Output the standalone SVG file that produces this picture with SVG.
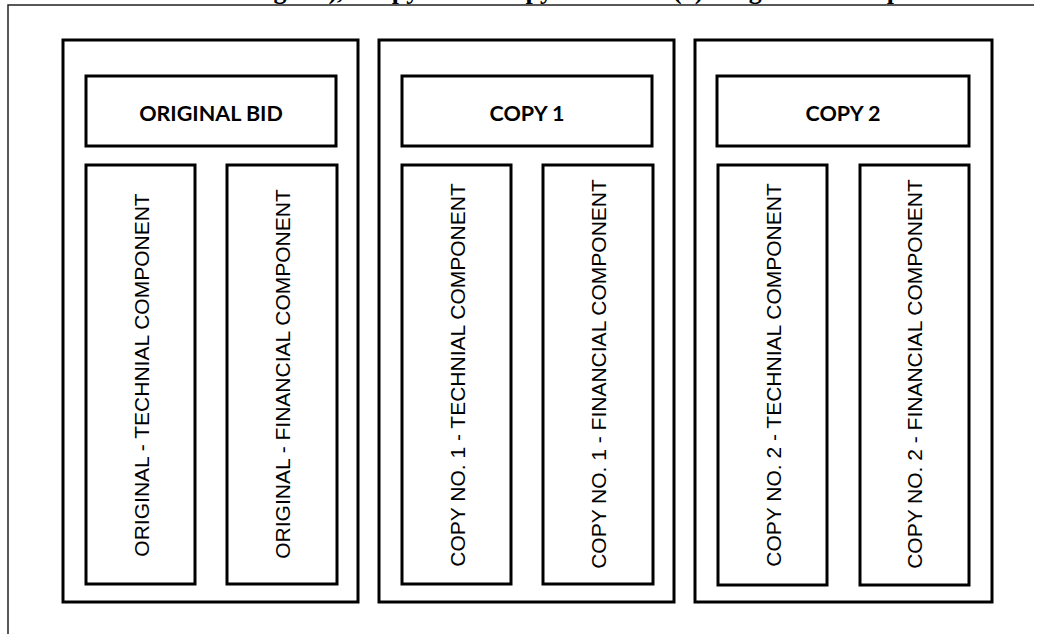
<svg xmlns="http://www.w3.org/2000/svg" width="1038" height="634" viewBox="0 0 1038 634">
<style>
.frame{fill:none;stroke:#222;stroke-width:1.5}
.box{fill:#fff;stroke:#000;stroke-width:3}
.title{font-family:"Liberation Serif",serif;font-weight:bold;font-size:26px;fill:#000}
.hdr{font-family:Lato,"Open Sans",sans-serif;font-weight:bold;font-size:21.5px;fill:#000;text-anchor:middle}
.vt{font-family:"Liberation Sans",Arial,sans-serif;font-size:21px;fill:#000;text-anchor:middle}
</style>
<rect width="1038" height="634" fill="#fff"/>
<text class="title" y="-1.5"><tspan x="234.5">Original),</tspan><tspan x="360">Copy 1 and Copy 2 in an</tspan><tspan x="673">(1) Original Envelope</tspan></text>
<g id="frame">
<polyline class="frame" points="8,634 8,5 1034,5"/>
</g>
<g id="bid-original">
<rect class="box" x="63" y="40" width="295" height="562"/>
<g id="hdr-original"><rect class="box" x="86" y="76" width="250" height="70"/><text class="hdr" x="211" y="121">ORIGINAL BID</text></g>
<g id="orig-tech"><rect class="box" x="86" y="165" width="109" height="419"/><text class="vt" transform="translate(141,375) rotate(-90)" y="7.5">ORIGINAL - TECHNIAL COMPONENT</text></g>
<g id="orig-fin"><rect class="box" x="227" y="165" width="110" height="419"/><text class="vt" transform="translate(282,374) rotate(-90)" y="7.5">ORIGINAL - FINANCIAL COMPONENT</text></g>
</g>
<g id="bid-copy1">
<rect class="box" x="379" y="40" width="295" height="562"/>
<g id="hdr-copy1"><rect class="box" x="402" y="76" width="250" height="70"/><text class="hdr" x="527" y="121">COPY 1</text></g>
<g id="copy1-tech"><rect class="box" x="402" y="165" width="109" height="419"/><text class="vt" transform="translate(457,375) rotate(-90)" y="7.5">COPY NO. 1 - TECHNIAL COMPONENT</text></g>
<g id="copy1-fin"><rect class="box" x="543" y="165" width="110" height="419"/><text class="vt" transform="translate(598,374) rotate(-90)" y="7.5">COPY NO. 1 - FINANCIAL COMPONENT</text></g>
</g>
<g id="bid-copy2">
<rect class="box" x="695" y="40" width="297" height="562"/>
<g id="hdr-copy2"><rect class="box" x="717" y="76" width="252" height="70"/><text class="hdr" x="843" y="121">COPY 2</text></g>
<g id="copy2-tech"><rect class="box" x="718" y="165" width="109" height="420"/><text class="vt" transform="translate(773,375) rotate(-90)" y="7.5">COPY NO. 2 - TECHNIAL COMPONENT</text></g>
<g id="copy2-fin"><rect class="box" x="860" y="165" width="109" height="420"/><text class="vt" transform="translate(914.5,374) rotate(-90)" y="7.5">COPY NO. 2 - FINANCIAL COMPONENT</text></g>
</g>
<g id="connectors"></g>
</svg>
